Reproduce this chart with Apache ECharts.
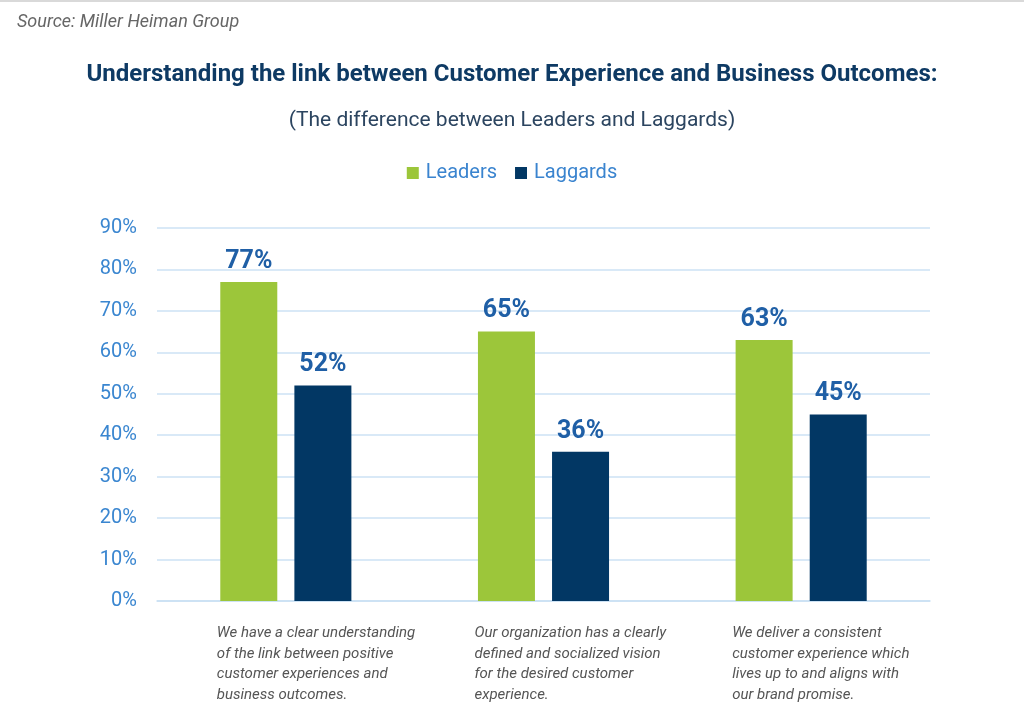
<!DOCTYPE html>
<html lang="en">
<head>
    <meta charset="UTF-8">
    <title>Customer Experience and Business Outcomes</title>
    <script src="https://cdn.jsdelivr.net/npm/echarts@6/dist/echarts.min.js"></script>
    <style>
        html, body { margin: 0; padding: 0; background: #fff; }
        #chart { width: 1024px; height: 713px; border-top: 2px solid #d9d9d9; }
    </style>
</head>
<body>
<div id="chart"></div>
<script type="application/javascript">
    // data
    var categories = [
        'We have a clear understanding\nof the link between positive\ncustomer experiences and\nbusiness outcomes.',
        'Our organization has a clearly\ndefined and socialized vision\nfor the desired customer\nexperience.',
        'We deliver a consistent\ncustomer experience which\nlives up to and aligns with\nour brand promise.'
    ];
    var seriesNames = ['Leaders', 'Laggards'];
    var leaders = [77, 65, 63];
    var laggards = [52, 36, 45];
    var yTicks = {min: 0, max: 90, interval: 10};

    var font = 'Roboto, sans-serif';
    var labelBlue = '#1f5fa6';

    var chart = echarts.init(document.getElementById('chart'));
    var option = {
        animation: false,
        title: [{
            text: 'Source: Miller Heiman Group',
            left: 12, top: 6,
            textStyle: {fontFamily: font, fontStyle: 'italic', fontWeight: 'normal', fontSize: 18, color: '#666'}
        }, {
            text: 'Understanding the link between Customer Experience and Business Outcomes:',
            left: 'center', top: 56,
            textStyle: {fontFamily: font, fontWeight: 'bold', fontSize: 24, color: '#0e3a64'}
        }, {
            text: '(The difference between Leaders and Laggards)',
            left: 'center', top: 103,
            textStyle: {fontFamily: font, fontWeight: 'normal', fontSize: 21, color: '#2c4560'}
        }],
        legend: {
            data: seriesNames,
            top: 156,
            left: 'center',
            icon: 'rect',
            itemWidth: 12,
            itemHeight: 12,
            itemGap: 18,
            textStyle: {fontFamily: font, fontSize: 20, color: '#3a84cf', padding: [0, 0, 0, 2]}
        },
        grid: {left: 157, right: 94, top: 226, bottom: 114},
        xAxis: {
            type: 'category',
            data: categories,
            axisTick: {show: false},
            axisLine: {lineStyle: {color: '#c9e0f4', width: 1.5}},
            axisLabel: {
                margin: 22,
                interval: 0,
                formatter: function (v) { return '{t|' + v + '}'; },
                rich: {
                    t: {
                        width: 138,
                        align: 'left',
                        fontFamily: font,
                        fontStyle: 'italic',
                        fontSize: 15,
                        lineHeight: 20.5,
                        color: '#555'
                    }
                }
            }
        },
        yAxis: {
            type: 'value',
            min: yTicks.min,
            max: yTicks.max,
            interval: yTicks.interval,
            axisLine: {show: false},
            axisTick: {show: false},
            axisLabel: {
                formatter: '{value}%',
                margin: 20,
                fontFamily: font,
                fontSize: 20,
                color: '#3a86d0'
            },
            splitLine: {lineStyle: {color: '#cce2f5', width: 1.5}}
        },
        series: [{
            name: seriesNames[0],
            type: 'bar',
            data: leaders,
            barWidth: 57,
            barGap: '30%',
            itemStyle: {color: '#9cc63a'},
            label: {
                show: true, position: 'top', distance: 8,
                formatter: '{c}%',
                fontFamily: font, fontWeight: 'bold', fontSize: 25, color: labelBlue
            }
        }, {
            name: seriesNames[1],
            type: 'bar',
            data: laggards,
            barWidth: 57,
            itemStyle: {color: '#023764'},
            label: {
                show: true, position: 'top', distance: 8,
                formatter: '{c}%',
                fontFamily: font, fontWeight: 'bold', fontSize: 25, color: labelBlue
            }
        }]
    };
    chart.setOption(option);
</script>
</body>
</html>
